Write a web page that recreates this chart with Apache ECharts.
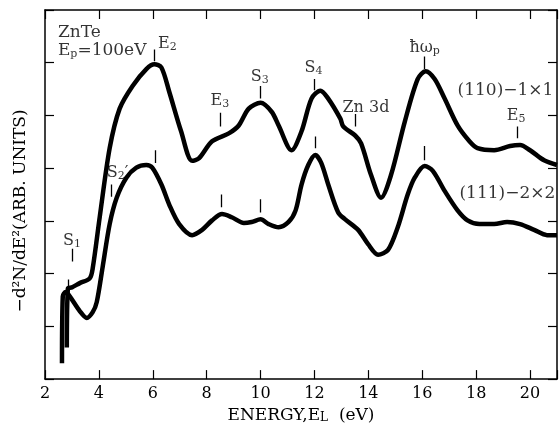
<!DOCTYPE html>
<html>
<head>
<meta charset="utf-8">
<script src="https://cdn.jsdelivr.net/npm/echarts@6/dist/echarts.min.js"></script>
<style>
html, body { margin: 0; padding: 0; background: #fff; }
#chart { width: 560px; height: 429px; }
</style>
</head>
<body>
<div id="chart"></div>
<script>
// energy axis tick labels (eV)
var xTickValues = [2, 4, 6, 8, 10, 12, 14, 16, 18, 20];

// (110)-1x1 spectrum
var upperE = [2.81, 2.85, 3.00, 3.29, 3.66, 3.77, 4.03, 4.40, 4.77, 5.25, 5.76, 6.06, 6.32, 6.61, 7.05, 7.46, 7.72, 8.20, 8.82, 9.19, 9.56, 10.00, 10.41, 10.67, 11.15, 11.52, 11.89, 12.22, 12.51, 12.96, 13.07, 13.51, 13.73, 14.10, 14.47, 14.84, 15.35, 15.83, 16.13, 16.46, 16.83, 17.31, 17.75, 18.05, 18.67, 19.26, 19.63, 20.00, 20.52, 21.00];
var upperI = [0.60, 1.72, 1.74, 1.82, 1.91, 2.10, 3.07, 4.38, 5.13, 5.56, 5.88, 5.97, 5.91, 5.45, 4.70, 4.14, 4.19, 4.51, 4.66, 4.81, 5.13, 5.24, 5.07, 4.81, 4.34, 4.70, 5.32, 5.47, 5.32, 4.94, 4.79, 4.62, 4.47, 3.87, 3.44, 3.87, 4.88, 5.69, 5.84, 5.69, 5.32, 4.81, 4.51, 4.38, 4.34, 4.42, 4.44, 4.34, 4.15, 4.06];

// (111)-2x2 spectrum
var lowerE = [2.63, 2.66, 2.77, 2.92, 3.29, 3.55, 3.77, 3.92, 4.14, 4.40, 4.66, 5.02, 5.39, 5.76, 5.98, 6.32, 6.61, 6.98, 7.46, 7.83, 8.20, 8.57, 8.93, 9.38, 9.67, 10.00, 10.30, 10.67, 11.04, 11.30, 11.52, 11.77, 12.03, 12.25, 12.51, 12.88, 13.14, 13.62, 13.99, 14.36, 14.73, 15.09, 15.46, 15.72, 16.09, 16.39, 16.83, 17.31, 17.68, 18.12, 18.67, 19.15, 19.63, 20.15, 20.63, 21.00];
var lowerI = [0.30, 1.57, 1.65, 1.57, 1.29, 1.16, 1.27, 1.46, 2.13, 2.94, 3.44, 3.82, 4.01, 4.06, 4.01, 3.69, 3.31, 2.94, 2.73, 2.83, 3.01, 3.13, 3.07, 2.96, 2.98, 3.03, 2.94, 2.88, 2.98, 3.20, 3.69, 4.06, 4.25, 4.10, 3.69, 3.16, 3.03, 2.83, 2.56, 2.36, 2.45, 2.88, 3.50, 3.82, 4.04, 3.95, 3.57, 3.20, 3.01, 2.94, 2.94, 2.98, 2.94, 2.83, 2.73, 2.73];

// feature markers: energy, bottom, top
var markE = [6.06, 8.49, 9.97, 12.00, 13.51, 16.09, 19.52, 4.47, 6.09, 8.53, 10.00, 12.03, 16.09, 3.00, 2.85];
var markLo = [6.03, 4.79, 5.32, 5.48, 4.79, 5.88, 4.57, 3.46, 4.10, 3.26, 3.16, 4.38, 4.15, 2.23, 1.67];
var markHi = [6.25, 5.05, 5.56, 5.69, 5.03, 6.12, 4.79, 3.69, 4.34, 3.50, 3.41, 4.60, 4.42, 2.47, 1.89];

// feature labels (centred)
var labelText = ['E{s|2}', 'E{s|3}', 'S{s|3}', 'S{s|4}', 'Zn 3d', '\u0127\u03c9{s|p}', 'E{s|5}', 'S{s|2}\u2032', 'S{s|1}'];
var labelE = [6.54, 8.49, 9.97, 11.96, 13.91, 16.09, 19.48, 4.69, 3.00];
var labelI = [6.36, 5.28, 5.73, 5.90, 5.15, 6.29, 5.00, 3.91, 2.62];

// left-aligned notes
var noteText = ['ZnTe', 'E{s|p}=100eV', '(110)\u22121\u00d71', '(111)\u22122\u00d72'];
var noteE = [2.48, 2.48, 17.31, 17.38];
var noteI = [6.57, 6.23, 5.47, 3.52];

var serif = 'DejaVu Serif';
var ink = '#000';

function pairs(xs, ys) {
    return xs.map(function (x, i) { return [x, ys[i]]; });
}
function triples(xs, ys, ts) {
    return xs.map(function (x, i) { return [x, ys[i], ts[i]]; });
}

var richStyle = {
    s: { fontSize: 11, fontFamily: serif, color: ink, lineHeight: 6, verticalAlign: 'bottom', textBorderWidth: 0 }
};

var chart = echarts.init(document.getElementById('chart'));

var frameAxis = {
    type: 'value',
    min: 2,
    max: 21,
    interval: 2,
    axisLine: { onZero: false, lineStyle: { color: ink, width: 1.5 } },
    axisTick: { inside: true, length: 9, lineStyle: { color: ink, width: 1.2 } },
    splitLine: { show: false }
};

option = {
    animation: false,
    backgroundColor: '#fff',
    grid: { left: 45, right: 1, top: 10, bottom: 45 },
    xAxis: [
        Object.assign({}, frameAxis, {
            position: 'bottom',
            name: 'ENERGY,E{s|L}  (eV)',
            nameLocation: 'middle',
            nameGap: 24,
            nameTextStyle: {
                fontFamily: serif, fontSize: 17, color: ink,
                rich: { s: { fontSize: 12, fontFamily: serif, color: ink, lineHeight: 6, verticalAlign: 'bottom' } }
            },
            axisLabel: {
                fontFamily: serif, fontSize: 16, color: ink, margin: 7,
                formatter: function (v) { return xTickValues.indexOf(v) >= 0 ? String(v) : ''; }
            }
        }),
        Object.assign({}, frameAxis, {
            position: 'top',
            axisLabel: { show: false }
        })
    ],
    yAxis: [
        {
            type: 'value', min: 0, max: 7, interval: 1, position: 'left',
            axisLine: { show: true, onZero: false, lineStyle: { color: ink, width: 1.5 } },
            axisTick: { show: true, inside: true, length: 9, lineStyle: { color: ink, width: 1.2 } },
            axisLabel: { show: false },
            splitLine: { show: false }
        },
        {
            type: 'value', min: 0, max: 7, interval: 1, position: 'right',
            axisLine: { show: true, onZero: false, lineStyle: { color: ink, width: 1.5 } },
            axisTick: { show: true, inside: true, length: 9, lineStyle: { color: ink, width: 1.2 } },
            axisLabel: { show: false },
            splitLine: { show: false }
        }
    ],
    graphic: [{
        type: 'text',
        x: 21,
        y: 211,
        rotation: Math.PI / 2,
        style: {
            text: '\u2212d\u00b2N/dE\u00b2(ARB. UNITS)',
            fontFamily: serif,
            fontSize: 17,
            fill: ink,
            align: 'center',
            verticalAlign: 'middle'
        }
    }],
    series: [
        {
            name: '(110)-1x1',
            type: 'line',
            data: pairs(upperE, upperI),
            smooth: 0.3,
            symbol: 'none',
            lineStyle: { color: ink, width: 4.5 }
        },
        {
            name: '(111)-2x2',
            type: 'line',
            data: pairs(lowerE, lowerI),
            smooth: 0.3,
            symbol: 'none',
            lineStyle: { color: ink, width: 4.5 }
        },
        {
            type: 'lines',
            coordinateSystem: 'cartesian2d',
            silent: true,
            lineStyle: { color: ink, width: 1.3, opacity: 1 },
            data: markE.map(function (e, i) {
                return { coords: [[e, markLo[i]], [e, markHi[i]]] };
            })
        },
        {
            type: 'scatter',
            symbolSize: 0,
            silent: true,
            data: triples(labelE, labelI, labelText),
            label: {
                show: true,
                position: 'inside',
                fontFamily: serif,
                fontSize: 16,
                color: ink,
                textBorderWidth: 0,
                lineHeight: 18,
                formatter: function (p) { return p.data[2]; },
                rich: richStyle
            }
        },
        {
            type: 'scatter',
            symbolSize: 0,
            silent: true,
            data: triples(noteE, noteI, noteText),
            label: {
                show: true,
                position: 'inside',
                align: 'left',
                fontFamily: serif,
                fontSize: 17,
                color: ink,
                textBorderWidth: 0,
                lineHeight: 18,
                formatter: function (p) { return p.data[2]; },
                rich: richStyle
            }
        }
    ]
};
chart.setOption(option);
</script>
</body>
</html>
